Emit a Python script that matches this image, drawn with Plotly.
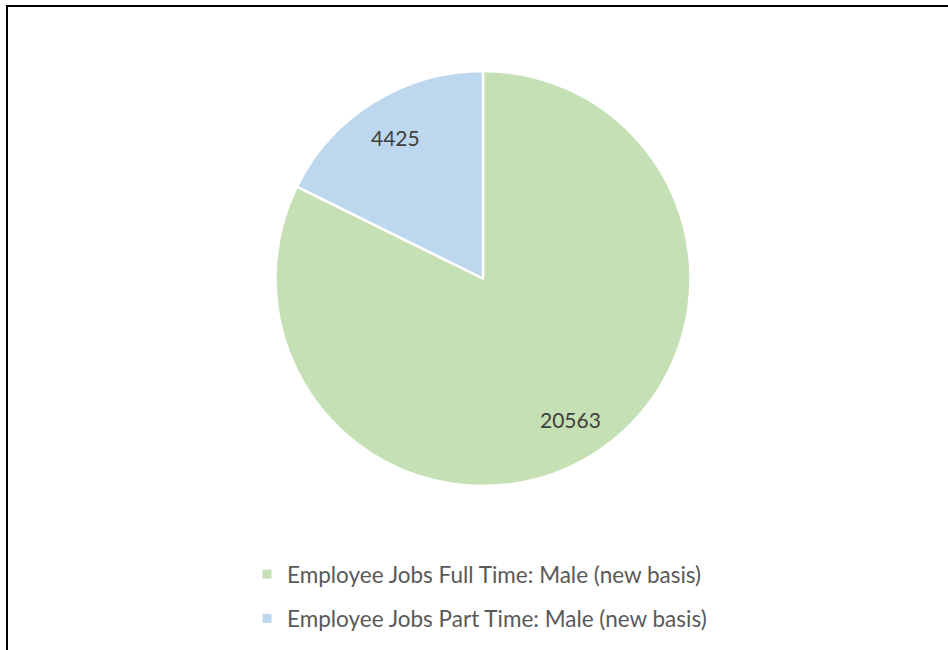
import math
import plotly.graph_objects as go

# Employee jobs by working pattern, male (new basis)
labels = [
    "Employee Jobs Full Time: Male (new basis)",
    "Employee Jobs Part Time: Male (new basis)",
]
values = [20563, 4425]
colors = ["#C5E0B4", "#BDD7EE"]

W, H = 948, 650
cx, cy, r = 483, 278.5, 207.5  # pie centre and radius in pixels
label_r = 0.8                   # data labels sit at 80% of the radius

fig = go.Figure()

fig.add_trace(go.Pie(
    labels=labels,
    values=values,
    sort=False,
    direction="clockwise",
    rotation=0,
    marker=dict(colors=colors, line=dict(color="white", width=2.5)),
    textinfo="none",
    showlegend=False,
    hoverinfo="label+value",
    domain=dict(
        x=[(cx - r) / W, (cx + r) / W],
        y=[(H - cy - r) / H, (H - cy + r) / H],
    ),
))

# Value labels placed at each slice's mid-angle (clockwise from 12 o'clock)
total = sum(values)
cum = 0
annotations = []
for v in values:
    mid = (cum + v / 2) / total * 2 * math.pi
    cum += v
    px = cx + label_r * r * math.sin(mid)
    py = cy - label_r * r * math.cos(mid)
    annotations.append(dict(
        x=px / W, y=1 - py / H, xref="paper", yref="paper",
        text=str(v), showarrow=False,
        font=dict(family="Lato", size=21, color="#404040"),
        xanchor="center", yanchor="middle",
    ))

# Legend entries drawn as small square markers, one group per slice
for name, col in zip(labels, colors):
    fig.add_trace(go.Scatter(
        x=[None], y=[None], mode="markers", name=name,
        legendgroup=name,
        marker=dict(symbol="square", size=9, color=col),
    ))

fig.update_layout(
    width=W, height=H,
    margin=dict(l=0, r=0, t=0, b=0),
    paper_bgcolor="white",
    plot_bgcolor="white",
    xaxis=dict(visible=False),
    yaxis=dict(visible=False),
    legend=dict(
        orientation="v",
        x=247 / W, xanchor="left",
        y=(H - 553) / H, yanchor="top",
        font=dict(family="Lato", size=22.5, color="#595959"),
        tracegroupgap=12,
        itemwidth=30,
        bgcolor="rgba(0,0,0,0)",
    ),
    annotations=annotations,
    shapes=[dict(
        type="rect", xref="paper", yref="paper",
        x0=7 / W, x1=1.02, y0=-0.02, y1=1 - 6 / H,
        line=dict(color="black", width=2),
        fillcolor="rgba(0,0,0,0)",
        layer="above",
    )],
)

fig.write_html("out.html")
